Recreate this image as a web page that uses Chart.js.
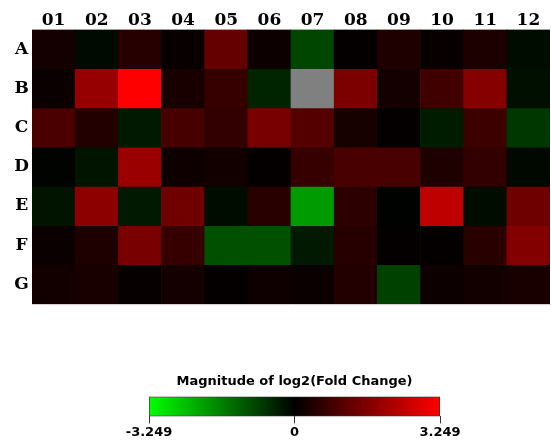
<!DOCTYPE html>
<html>
<head>
<meta charset="utf-8">
<title>Plate heatmap</title>
<script src="https://cdn.jsdelivr.net/npm/chart.js@4"></script>
<style>
  html, body { margin: 0; padding: 0; background: #fff; }
  #page { position: relative; width: 551px; height: 443px; }
  #heatBox { position: absolute; left: 0; top: 0; width: 551px; height: 310px; }
  #scaleBox { position: absolute; left: 0; top: 360px; width: 551px; height: 83px; }
</style>
</head>
<body>
<div id="page">
  <div id="heatBox"><canvas id="plateChart"></canvas></div>
  <div id="scaleBox"><canvas id="scaleChart"></canvas></div>
</div>
<script>
// Plate layout
const columns = ["01", "02", "03", "04", "05", "06", "07", "08", "09", "10", "11", "12"];
const rows = ["A", "B", "C", "D", "E", "F", "G"];

// log2 fold change per well (null = no value)
const rowA = [0.25, -0.13, 0.48, 0.10, 1.27, 0.15, -0.89, 0.06, 0.38, 0.10, 0.36, -0.15];
const rowB = [0.13, 1.91, 3.249, 0.32, 0.70, -0.45, null, 1.59, 0.25, 0.83, 1.72, -0.19];
const rowC = [0.96, 0.45, -0.32, 0.89, 0.64, 1.53, 1.08, 0.28, 0.06, -0.36, 0.76, -0.70];
const rowD = [-0.04, -0.25, 1.97, 0.19, 0.23, 0.06, 0.70, 0.92, 0.92, 0.38, 0.64, -0.10];
const rowE = [-0.25, 1.78, -0.32, 1.40, -0.15, 0.51, -1.97, 0.57, -0.03, 2.42, -0.15, 1.40];
const rowF = [0.13, 0.38, 1.53, 0.70, -1.02, -1.02, -0.32, 0.48, 0.06, 0.06, 0.51, 1.66];
const rowG = [0.23, 0.32, 0.08, 0.25, 0.06, 0.19, 0.13, 0.45, -0.83, 0.15, 0.23, 0.32];
const plateValues = [rowA, rowB, rowC, rowD, rowE, rowF, rowG];

// colour scale limits and labels
const scaleTicks = [-3.249, 0, 3.249];
const scaleTitle = "Magnitude of log2(Fold Change)";

const colorLimit = scaleTicks[2];

// green (down) -> black -> red (up), grey for missing wells
function wellColor(v) {
  if (v === null) return "rgb(128,128,128)";
  const c = Math.round(255 * Math.min(Math.abs(v) / colorLimit, 1));
  return v >= 0 ? `rgb(${c},0,0)` : `rgb(0,${c},0)`;
}

const labelFont = { family: "DejaVu Serif", size: 17, weight: "bold" };
const scaleFont = { family: "DejaVu Sans", size: 13, weight: "bold" };

// each row is a dataset of floating bars spanning [row, row + 1]
new Chart(document.getElementById("plateChart"), {
  type: "bar",
  data: {
    labels: columns,
    datasets: rows.map((r, i) => ({
      label: r,
      data: plateValues[i].map(() => [i, i + 1]),
      backgroundColor: plateValues[i].map(wellColor),
      borderWidth: 0,
      barPercentage: 1,
      categoryPercentage: 1,
      grouped: false,
    })),
  },
  options: {
    responsive: true,
    maintainAspectRatio: false,
    animation: false,
    layout: { padding: { top: 0, right: 1, bottom: 6, left: 0 } },
    plugins: {
      legend: { display: false },
      tooltip: { enabled: false },
    },
    scales: {
      x: {
        position: "top",
        grid: { display: false, drawTicks: false },
        border: { display: false },
        ticks: { font: labelFont, color: "#000", padding: -1, maxRotation: 0 },
        afterFit: (s) => { s.height = 29.5; },
      },
      xBottom: {
        type: "category",
        position: "bottom",
        grid: { display: false, drawTicks: false },
        border: { display: true, color: "#d9cccc", width: 1 },
        ticks: { display: false },
        afterFit: (s) => { s.height = 0; },
      },
      y: {
        type: "linear",
        min: 0,
        max: rows.length,
        reverse: true,
        grid: { display: false, drawTicks: false },
        border: { display: false },
        afterBuildTicks: (s) => { s.ticks = rows.map((r, i) => ({ value: i + 0.5 })); },
        ticks: {
          callback: (v, i) => rows[i],
          crossAlign: "center",
          padding: 3,
          font: labelFont,
          color: "#000",
        },
        afterFit: (s) => {
          s.width = 32;
          s.paddingTop = 0;
          s.paddingBottom = 0;
        },
      },
    },
  },
});

// colour key under the plate
new Chart(document.getElementById("scaleChart"), {
  type: "bar",
  data: {
    labels: ["key"],
    datasets: [{
      data: [[scaleTicks[0], scaleTicks[2]]],
      backgroundColor: (c) => {
        const { ctx, chartArea } = c.chart;
        if (!chartArea) return "#000";
        const g = ctx.createLinearGradient(chartArea.left, 0, chartArea.right, 0);
        g.addColorStop(0, wellColor(scaleTicks[0]));
        g.addColorStop(0.5, wellColor(scaleTicks[1]));
        g.addColorStop(1, wellColor(scaleTicks[2]));
        return g;
      },
      borderColor: "#333",
      borderWidth: 1,
      borderSkipped: false,
      barPercentage: 1,
      categoryPercentage: 1,
    }],
  },
  options: {
    indexAxis: "y",
    responsive: true,
    maintainAspectRatio: false,
    animation: false,
    layout: { padding: { top: 14, left: 149, right: 111, bottom: 2 } },
    plugins: {
      legend: { display: false },
      tooltip: { enabled: false },
      title: {
        display: true,
        text: scaleTitle,
        fullSize: false,
        font: scaleFont,
        color: "#000",
        padding: { top: 0, bottom: 7 },
      },
    },
    scales: {
      x: {
        type: "linear",
        min: scaleTicks[0],
        max: scaleTicks[2],
        afterBuildTicks: (s) => { s.ticks = scaleTicks.map((v) => ({ value: v })); },
        ticks: {
          callback: (v) => (v === 0 ? "0" : v.toFixed(3)),
          font: scaleFont,
          color: "#000",
          padding: 1,
          maxRotation: 0,
          autoSkip: false,
        },
        grid: { drawOnChartArea: false, tickLength: 7, tickColor: "#333" },
        border: { display: false },
      },
      y: { display: false },
    },
  },
});
</script>
</body>
</html>
